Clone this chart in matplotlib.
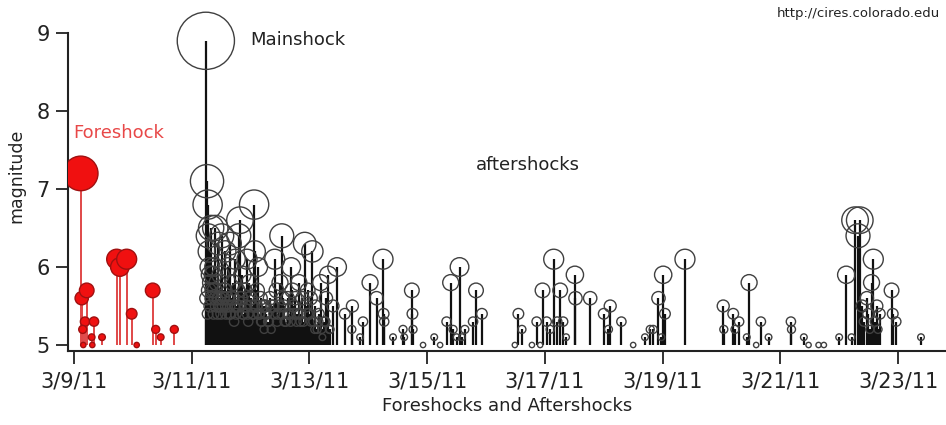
import numpy as np
import pandas as pd
import matplotlib
matplotlib.use("Agg")
import matplotlib.pyplot as plt
import matplotlib.dates as mdates

start = pd.Timestamp("2011-03-09")

# foreshocks: days after 3/9/11 00:00, magnitude
fore_days = [0.114, 0.131, 0.216, 0.187, 0.34, 0.148, 0.30, 0.476, 0.158, 0.311,
             0.725, 0.78, 0.895, 0.98, 1.065, 1.337, 1.388, 1.473, 1.704]
fore_mag = [7.2, 5.6, 5.7, 5.3, 5.3, 5.2, 5.1, 5.1, 5.0, 5.0,
            6.1, 6.0, 6.1, 5.4, 5.0, 5.7, 5.2, 5.1, 5.2]

# aftershocks (mainshock first)
after_days = [
    2.24, 2.26, 2.27, 2.28, 2.29, 2.30, 2.31, 2.32, 2.33, 2.35, 2.36, 2.38, 2.40, 2.41,
    2.43, 2.45, 2.47, 2.49, 2.51, 2.53, 2.55, 2.57, 2.59, 2.62, 2.64, 2.65, 2.68, 2.70,
    2.72, 2.74, 2.76, 2.78, 2.80, 2.82, 2.84, 2.86, 2.88, 2.90, 2.92, 2.94, 2.96, 2.98,
    3.00, 3.03, 3.06, 3.07, 3.09, 3.11, 3.13, 3.15, 3.17, 3.19, 3.21, 3.23, 3.25, 3.27,
    3.30, 3.33, 3.35, 3.38, 3.41, 3.44, 3.47, 3.50, 3.53, 3.55, 3.57, 3.60, 3.63, 3.66,
    3.69, 3.71, 3.73, 3.76, 3.79, 3.82, 3.85, 3.88, 3.92, 3.94, 3.97, 4.00, 4.02, 4.05,
    4.07, 4.10, 4.13, 4.16, 4.19, 4.22, 4.25, 4.28, 4.32, 4.35, 4.47,
    # smaller ones filling the dense part
    2.25, 2.27, 2.29, 2.31, 2.34, 2.37, 2.39, 2.42, 2.44, 2.46, 2.48, 2.50, 2.52, 2.54,
    2.56, 2.58, 2.60, 2.63, 2.66, 2.69, 2.71, 2.75, 2.79, 2.83, 2.87, 2.91, 2.95, 2.99,
    3.02, 3.05, 3.10, 3.14, 3.18, 3.22, 3.26, 3.31, 3.36, 3.40, 3.45, 3.49, 3.54, 3.58,
    3.64, 3.68, 3.74, 3.78, 3.84, 3.90, 3.96, 4.03, 4.09, 4.15, 4.21, 4.27, 4.34,
    # later days
    4.40, 4.60, 4.73, 4.72, 4.86, 4.91, 5.03, 5.14, 5.25, 5.26, 5.27, 5.42, 5.59, 5.61,
    5.74, 5.75, 5.76, 5.93, 6.12, 6.22, 6.33, 6.40, 6.44, 6.50, 6.55, 6.59, 6.64, 6.78,
    6.83, 6.93, 7.49, 7.55, 7.61, 7.78, 7.86, 7.92, 7.96, 8.03, 8.09, 8.15, 8.21, 8.26,
    8.31, 8.36, 8.51, 8.52, 8.77, 9.00, 9.08, 9.11, 9.30, 9.50, 9.70, 9.79, 9.84, 9.93,
    9.98, 10.01, 10.04, 10.38, 11.03, 11.04, 11.20, 11.23, 11.30, 11.43, 11.47, 11.59,
    11.67, 11.80, 12.18, 12.19, 12.40, 12.48, 12.65, 12.74, 13.00, 13.12, 13.21, 13.27,
    13.32, 13.35, 13.39, 13.42, 13.47, 13.49, 13.52, 13.55, 13.58, 13.61, 13.64, 13.66,
    13.69, 13.89, 13.91, 13.97, 14.39,
]
after_mag = [
    8.9, 7.1, 6.8, 6.4, 6.2, 6.0, 5.9, 5.8, 6.5, 5.7, 5.9, 6.0, 6.5, 5.6,
    5.8, 6.3, 5.5, 5.9, 6.4, 5.6, 5.7, 6.2, 5.5, 6.0, 5.4, 6.3, 5.6, 5.8,
    5.3, 6.1, 5.5, 5.7, 6.4, 6.6, 5.6, 5.9, 5.4, 5.7, 5.5, 6.1, 5.3, 5.8,
    5.6, 5.4, 6.8, 6.2, 5.5, 5.7, 6.0, 5.4, 5.6, 5.3, 5.5, 5.2, 5.5, 5.4,
    5.3, 5.6, 5.2, 5.5, 6.1, 5.7, 5.4, 5.8, 6.4, 5.6, 5.5, 5.3, 5.6, 5.4,
    6.0, 5.7, 5.5, 5.6, 5.4, 5.8, 5.3, 5.6, 6.3, 5.5, 5.7, 5.4, 5.6, 6.2,
    5.3, 5.5, 5.2, 5.4, 5.8, 5.1, 5.3, 5.6, 5.9, 5.2, 6.0,
    5.6, 5.4, 5.7, 5.5, 5.6, 5.4, 5.7, 5.5, 5.4, 5.6, 5.5, 5.4, 5.6, 5.5,
    5.7, 5.4, 5.6, 5.5, 5.4, 5.6, 5.5, 5.4, 5.5, 5.6, 5.4, 5.5, 5.4, 5.6,
    5.5, 5.4, 5.5, 5.4, 5.3, 5.5, 5.4, 5.3, 5.5, 5.4, 5.3, 5.5, 5.4, 5.3,
    5.4, 5.3, 5.4, 5.3, 5.4, 5.3, 5.4, 5.3, 5.2, 5.3, 5.2, 5.3, 5.2,
    5.5, 5.4, 5.5, 5.2, 5.1, 5.3, 5.8, 5.6, 6.1, 5.4, 5.3, 5.1, 5.2, 5.1,
    5.7, 5.4, 5.2, 5.0, 5.1, 5.0, 5.3, 5.8, 5.2, 5.1, 6.0, 5.1, 5.2, 5.3,
    5.7, 5.4, 5.0, 5.4, 5.2, 5.0, 5.3, 5.0, 5.7, 5.3, 5.2, 6.1, 5.3, 5.7,
    5.3, 5.1, 5.9, 5.6, 5.6, 5.4, 5.2, 5.5, 5.3, 5.0, 5.1, 5.2, 5.2, 5.6,
    5.1, 5.9, 5.4, 6.1, 5.5, 5.2, 5.4, 5.2, 5.3, 5.1, 5.8, 5.0,
    5.3, 5.1, 5.3, 5.2, 5.1, 5.0, 5.0, 5.0, 5.1, 5.9, 5.1, 6.6,
    6.4, 6.6, 5.5, 5.3, 5.6, 5.4, 5.2, 5.8, 6.1, 5.3, 5.5, 5.2,
    5.4, 5.7, 5.4, 5.3, 5.1,
]

tick_labels = ["3/9/11", "3/11/11", "3/13/11", "3/15/11",
               "3/17/11", "3/19/11", "3/21/11", "3/23/11"]


def to_num(days):
    t = start + pd.to_timedelta(np.asarray(days, dtype=float), unit="D")
    return mdates.date2num(t.to_pydatetime())


def marker_size(mag):
    # circle diameter grows with magnitude (pixels -> points at 100 dpi)
    d_px = 13.3 * (np.asarray(mag) - 4.6)
    return (d_px * 0.72) ** 2


fx = to_num(fore_days)
axx = to_num(after_days)
fm = np.array(fore_mag)
am = np.array(after_mag)

plt.rcParams["font.family"] = "DejaVu Sans"
fig = plt.figure(figsize=(9.46, 4.25), dpi=100)
ax = fig.add_axes([68 / 946, 74 / 425, 878 / 946, 351 / 425])

ymin = 5 - 6 / 78
ax.set_ylim(ymin, ymin + 351 / 78)
ax.set_xlim(to_num([-0.102])[0], to_num([14.815])[0])

# aftershocks
ax.vlines(axx, 5, am, color="#111111", lw=1.6, zorder=2)
ax.scatter(axx, am, s=marker_size(am), facecolors="none",
           edgecolors="#404040", linewidths=1.0, zorder=3)

# foreshocks
ax.vlines(fx, 5, fm, color="#e04848", lw=1.4, zorder=2)
ax.scatter(fx, fm, s=marker_size(fm), facecolors="#f01010",
           edgecolors="#a01010", linewidths=1.0, zorder=4)

ax.text(to_num([2.99])[0], 8.91, "Mainshock", fontsize=13, va="center", color="#222222")
ax.text(to_num([-0.02])[0], 7.72, "Foreshock", fontsize=13, va="center", color="#e84848")
ax.text(to_num([6.83])[0], 7.31, "aftershocks", fontsize=13, va="center", color="#222222")
fig.text(940 / 946, 1 - 14 / 425, "http://cires.colorado.edu", fontsize=9.5,
         ha="right", va="center", color="#222222")

for s in ["top", "right"]:
    ax.spines[s].set_visible(False)
for s in ["left", "bottom"]:
    ax.spines[s].set_linewidth(1.5)
    ax.spines[s].set_color("#222222")
ax.spines["left"].set_bounds(ymin, 9)

ax.set_yticks([5, 6, 7, 8, 9])
ax.set_xticks(to_num([0, 2, 4, 6, 8, 10, 12, 14]))
ax.set_xticklabels(tick_labels)
ax.tick_params(axis="both", length=9, width=1.3, color="#222222",
               labelsize=15, labelcolor="#222222")
ax.tick_params(axis="x", pad=6)
ax.tick_params(axis="y", pad=4)
ax.set_ylabel("magnitude", fontsize=12.5, color="#222222", labelpad=8)
ax.set_xlabel("Foreshocks and Aftershocks", fontsize=13, color="#222222", labelpad=4)

fig.savefig("out.png", dpi=100)
